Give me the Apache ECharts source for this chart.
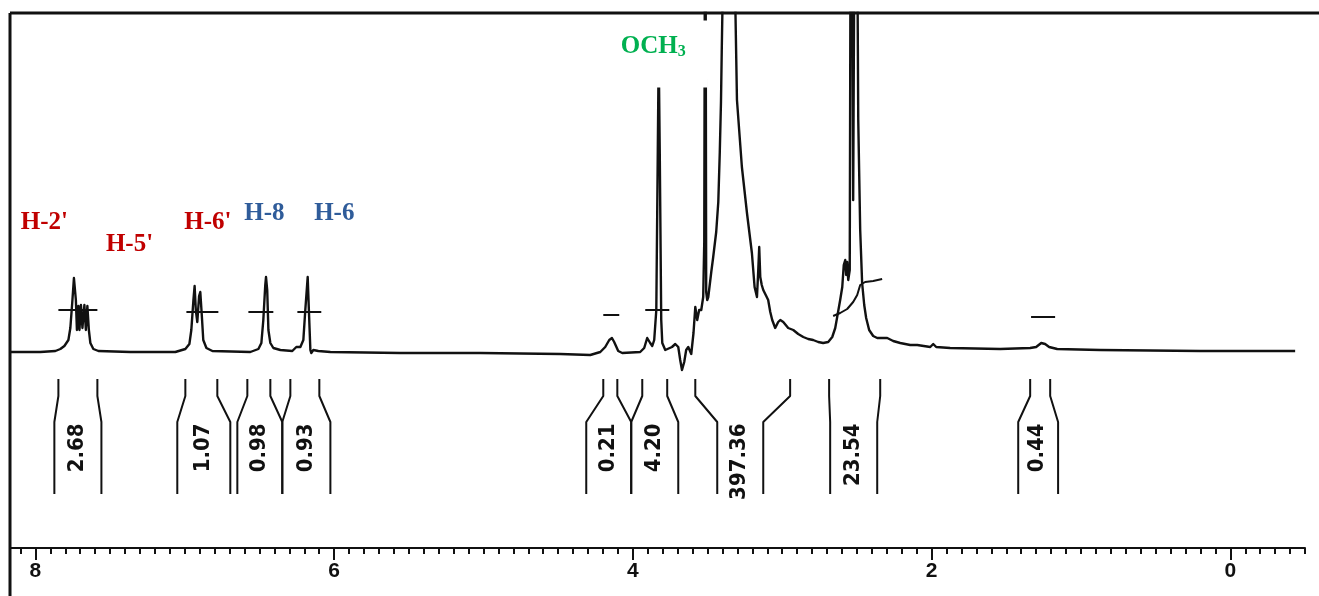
<!DOCTYPE html>
<html>
<head>
<meta charset="utf-8">
<script src="https://cdn.jsdelivr.net/npm/echarts@6/dist/echarts.min.js"></script>
<style>
  html, body { margin: 0; padding: 0; background: #fff; }
  #chart { width: 1319px; height: 596px; }
</style>
</head>
<body>
<div id="chart"></div>
<script>
// 1H NMR trace, points as [chemical shift (ppm), signal height]
const aromaticTrace = [
  [8.167,0],[7.967,0],[7.866,1],[7.833,3],[7.806,6],[7.779,12],[7.766,24],[7.752,52],[7.742,74],[7.736,76],
  [7.729,52],[7.722,22],[7.712,46],[7.705,22],[7.695,47],[7.685,24],[7.672,47],[7.662,22],[7.652,46],[7.642,22],
  [7.632,9],[7.612,3],[7.578,1],[7.364,0],
  [7.063,0],[6.996,3],[6.969,8],[6.956,22],[6.942,52],[6.934,66],[6.926,42],[6.916,30],[6.904,56],[6.896,60],
  [6.886,37],[6.876,12],[6.855,4],[6.815,1],
  [6.561,0],[6.507,3],[6.487,9],[6.474,32],[6.461,67],[6.456,75],[6.448,62],[6.440,22],[6.427,9],[6.407,4],[6.360,2],
  [6.280,1],[6.253,5],[6.240,7],[6.226,5],[6.206,12],[6.193,42],[6.177,75],[6.169,42],[6.159,2],[6.153,-1],
  [6.139,2],[6.106,1],[6.025,0],
  [5.557,-1],[5.021,-1],[4.486,-2]
];

const methoxyTrace = [
  [4.285,-3],[4.218,0],[4.185,5],[4.158,12],[4.140,14],[4.125,10],[4.098,1],[4.071,-1],[3.951,0],[3.924,4],
  [3.904,14],[3.884,9],[3.870,6],[3.857,12],[3.843,42],[3.833,202],[3.827,300],[3.820,202],[3.810,32],[3.803,9],
  [3.783,2],[3.770,4],[3.738,5],[3.716,8],[3.696,5],[3.683,-8],[3.671,-18],[3.656,-10],[3.643,2],[3.629,5],
  [3.609,-2],[3.594,19],[3.582,45],[3.569,32],[3.556,42],[3.542,42],[3.529,55],[3.522,110],[3.515,600],[3.509,60],
  [3.502,52]
];

const solventTrace = [
  [3.495,55],[3.475,80],[3.462,95],[3.442,120],[3.428,150],[3.418,200],[3.410,250],[3.405,300],[3.400,345],[3.392,420],
  [3.355,1400],[3.318,420],[3.313,339],[3.303,252],[3.270,185],[3.236,139],[3.203,99],[3.185,65],[3.169,55],[3.161,80],
  [3.154,105],[3.147,75],[3.137,67],[3.127,62],[3.107,56],[3.094,52],[3.080,40],[3.067,32],[3.047,24],[3.027,30],
  [3.013,32],[2.993,30],[2.960,24],[2.926,22],[2.893,18],[2.859,15],[2.826,13],[2.793,12],[2.759,10],[2.726,9],
  [2.692,10],[2.665,15],[2.645,24],[2.632,35],[2.612,52],[2.598,65],[2.588,87],[2.578,92],[2.572,77],[2.565,90],
  [2.558,72],[2.548,82],[2.538,700],[2.525,152],[2.508,700],[2.491,232],[2.478,122],[2.465,69],[2.451,47],[2.438,34],
  [2.418,22],[2.391,16],[2.364,14],[2.297,14],[2.257,11],[2.210,9]
];

const upfieldTrace = [
  [2.143,7],[2.096,7],[2.009,5],[1.989,8],[1.969,5],[1.876,4],[1.541,3],[1.340,4],[1.300,5],[1.266,9],
  [1.253,11],[1.240,8],[1.213,5],[1.159,3],[0.872,2],[0.202,1],[-0.434,1]
];

// integral trace steps drawn over each signal
const integralSteps = [
  [[7.846,42],[7.585,42]],
  [[6.989,40],[6.775,40]],
  [[6.574,40],[6.407,40]],
  [[6.246,40],[6.086,40]],
  [[4.198,37],[4.091,37]],
  [[3.917,42],[3.756,42]],
  [[2.659,36],[2.612,39],[2.565,43],[2.525,50],[2.498,57],[2.478,67],[2.445,70],[2.391,71],[2.331,73]],
  [[1.334,35],[1.173,35]]
];

// integration values and their bracket legs: [left top, left bottom, right top, right bottom] in ppm
const integralValues = ['2.68', '1.07', '0.98', '0.93', '0.21', '4.20', '397.36', '23.54', '0.44'];
const integralLegs = [
  [7.846, 7.873, 7.585, 7.558],
  [6.996, 7.050, 6.782, 6.695],
  [6.581, 6.648, 6.427, 6.347],
  [6.293, 6.347, 6.099, 6.025],
  [4.198, 4.312, 4.104, 4.011],
  [3.937, 4.011, 3.770, 3.696],
  [3.582, 3.435, 2.947, 3.127],
  [2.686, 2.679, 2.344, 2.364],
  [1.340, 1.420, 1.206, 1.153]
];

// proton assignments
const peakNames = ["H-2'", "H-5'", "H-6'", 'H-8', 'H-6', 'OCH3'];
const peakLabelShift = [7.940, 7.370, 6.845, 6.467, 5.999, 3.857];
const peakLabelHeight = [129, 107, 129, 138, 138, 298];
const peakGroup = ['ring B', 'ring B', 'ring B', 'ring A', 'ring A', 'methoxy'];

// axis ticks (ppm)
const majorTicks = [0, 2, 4, 6, 8];
const shiftMin = -0.5;
const shiftMax = 8.17;

const groupColor = { 'ring B': '#C00000', 'ring A': '#2F5C9A', 'methoxy': '#00B050' };

const minorTicks = [];
for (let i = -5; i <= 81; i++) minorTicks.push(+(i / 10).toFixed(1));

const spectrum = aromaticTrace.concat(methoxyTrace, solventTrace, upfieldTrace);

// bracket legs below the baseline
const legTop = -27, legKnee1 = -44, legKnee2 = -70, legBottom = -142;
const bracketSeries = [];
integralLegs.forEach(function (leg) {
  [[leg[0], leg[1]], [leg[2], leg[3]]].forEach(function (p) {
    bracketSeries.push({
      type: 'line', xAxisIndex: 0, yAxisIndex: 0, silent: true, symbol: 'none', z: 3,
      lineStyle: { color: '#111', width: 2 },
      data: [[p[0], legTop], [p[0], legKnee1], [p[1], legKnee2], [p[1], legBottom]]
    });
  });
});

const stepSeries = integralSteps.map(function (seg) {
  return {
    type: 'line', xAxisIndex: 0, yAxisIndex: 0, silent: true, symbol: 'none', z: 3,
    lineStyle: { color: '#111', width: 2 },
    data: seg
  };
});

const integralLabelData = integralValues.map(function (v, i) {
  const leg = integralLegs[i];
  return [(leg[1] + leg[3]) / 2, -72, v];
});

const peakLabelData = peakNames.map(function (n, i) {
  const c = groupColor[peakGroup[i]];
  return {
    value: [peakLabelShift[i], peakLabelHeight[i], n],
    label: n === 'OCH3'
      ? {
          formatter: '{m|OCH}{s|3}',
          color: c,
          backgroundColor: '#fff',
          padding: [14, 22, 28, 20],
          rich: {
            m: { fontSize: 25, fontWeight: 'bold', fontFamily: 'Liberation Serif', color: c },
            s: { fontSize: 16, fontWeight: 'bold', fontFamily: 'Liberation Serif', color: c, verticalAlign: 'bottom', padding: [6, 0, 0, 0] }
          }
        }
      : { formatter: n, color: c }
  };
});

const chart = echarts.init(document.getElementById('chart'), null, { renderer: 'canvas' });

chart.setOption({
  animation: false,
  backgroundColor: '#fff',
  grid: { left: 10, right: 14, top: 13, bottom: 48, containLabel: false },
  xAxis: [
    {
      type: 'value', inverse: true, min: shiftMin, max: shiftMax, position: 'bottom',
      axisLine: { show: true, onZero: false, lineStyle: { color: '#111', width: 2 } },
      axisTick: { show: true, customValues: minorTicks, length: 6, lineStyle: { color: '#111', width: 2 } },
      axisLabel: { show: false },
      splitLine: { show: false }
    },
    {
      type: 'value', inverse: true, min: shiftMin, max: shiftMax, position: 'bottom',
      axisLine: { show: false, onZero: false },
      axisTick: { show: true, customValues: majorTicks, length: 12, lineStyle: { color: '#111', width: 2 } },
      axisLabel: {
        show: true, customValues: majorTicks, margin: 13,
        fontFamily: 'Liberation Sans', fontWeight: 'bold', fontSize: 21, color: '#111'
      },
      splitLine: { show: false }
    }
  ],
  yAxis: { type: 'value', min: -196, max: 339, show: false },
  graphic: [
    { type: 'line', shape: { x1: 10, y1: 13, x2: 1319, y2: 13 }, style: { stroke: '#111', lineWidth: 3 }, z: 100 },
    { type: 'line', shape: { x1: 10, y1: 13, x2: 10, y2: 596 }, style: { stroke: '#111', lineWidth: 3 }, z: 100 }
  ],
  series: [
    {
      name: '1H NMR', type: 'line', xAxisIndex: 0, yAxisIndex: 0, silent: true, symbol: 'none', z: 2,
      clip: true,
      lineStyle: { color: '#111', width: 2.4, join: 'round' },
      data: spectrum
    }
  ].concat(stepSeries, bracketSeries, [
    {
      name: 'integrals', type: 'scatter', xAxisIndex: 0, yAxisIndex: 0, silent: true, z: 5,
      symbolSize: 1, itemStyle: { color: 'rgba(0,0,0,0)', opacity: 1 },
      label: {
        show: true, position: [0, 0], rotate: 90, align: 'right', verticalAlign: 'middle',
        fontFamily: 'DejaVu Sans Condensed', fontWeight: 'bold', fontSize: 22, color: '#111',
        formatter: function (p) { return p.data[2]; }
      },
      data: integralLabelData
    },
    {
      name: 'assignments', type: 'scatter', xAxisIndex: 0, yAxisIndex: 0, silent: true, z: 10,
      symbolSize: 1, itemStyle: { color: 'rgba(0,0,0,0)', opacity: 1 },
      label: {
        show: true, position: 'inside', align: 'center', verticalAlign: 'middle',
        fontFamily: 'Liberation Serif', fontWeight: 'bold', fontSize: 25
      },
      data: peakLabelData
    }
  ])
});
</script>
</body>
</html>
